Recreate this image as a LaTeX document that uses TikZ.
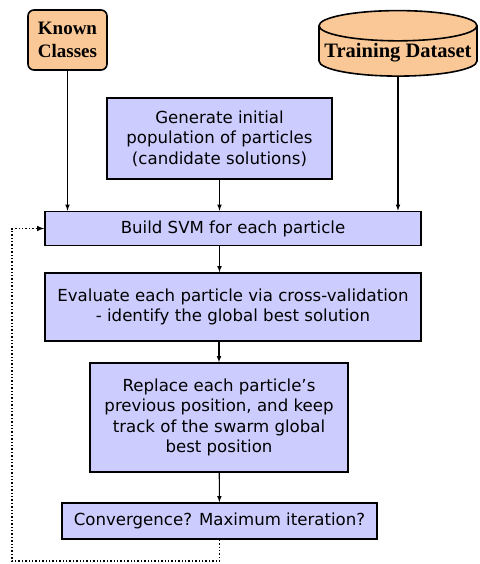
\documentclass[tikz,border=0pt]{standalone}
\usepackage{fontspec}
\setmainfont{Liberation Serif}
\setsansfont{DejaVu Sans}
\usepackage{xcolor}
\usetikzlibrary{shapes.geometric,arrows.meta,positioning,calc}
\definecolor{stepblue}{HTML}{CCCCFF}
\definecolor{srcorange}{HTML}{FAC896}

\begin{document}
\begin{tikzpicture}[x=1pt,y=-1pt,>=latex,
   blk/.style={draw,line width=1.6pt,fill=stepblue,align=center,inner sep=0pt,
     font=\sffamily\fontsize{16.6}{20.5}\selectfont},
   src/.style={draw,line width=1.6pt,fill=srcorange,align=center,inner sep=2pt,
     font=\bfseries\fontsize{19}{23}\selectfont},
   lnk/.style={->,line width=1.1pt},
   back/.style={->,dotted,line width=1.4pt}]
  \useasboundingbox (0,0) rectangle (479,564);
  \node[src,rounded corners=6pt,minimum width=79,minimum height=60] (kc) at (67.5,40) {Known\\Classes};
  \node[src,cylinder,shape border rotate=90,aspect=0.2,minimum width=158,minimum height=65,
    font=\bfseries\fontsize{20.5}{24}\selectfont] (td) at (398,53) {Training Dataset};
  \node[blk,minimum width=225,minimum height=81] (init) at (219.5,138.5) {Generate initial\\population of particles\\(candidate solutions)};
  \node[blk,minimum width=376,minimum height=34] (svm) at (233,228.5) {Build SVM for each particle};
  \node[blk,minimum width=376,minimum height=68] (eval) at (233,307) {Evaluate each particle via cross-validation\\- identify the global best solution};
  \node[blk,minimum width=258,minimum height=109] (upd) at (219,417.5) {Replace each particle's\\previous position, and keep\\track of the swarm global\\best position};
  \node[blk,minimum width=315,minimum height=36] (conv) at (219.5,521) {Convergence? Maximum iteration?};
  \coordinate (lb) at (12,561);
  \draw[lnk] (kc) -- (kc |- svm.north);
  \draw[lnk] (td) -- (td |- svm.north);
  \draw[lnk] (init) -- (init |- svm.north);
  \draw[lnk] (init |- svm.south) -- (init |- eval.north);
  \draw[lnk] (upd |- eval.south) -- (upd);
  \draw[lnk] (upd) -- (conv);
  \draw[back] (conv.south) -- (conv.south |- lb) -- (lb) |- (svm.west);
\end{tikzpicture}
\end{document}
